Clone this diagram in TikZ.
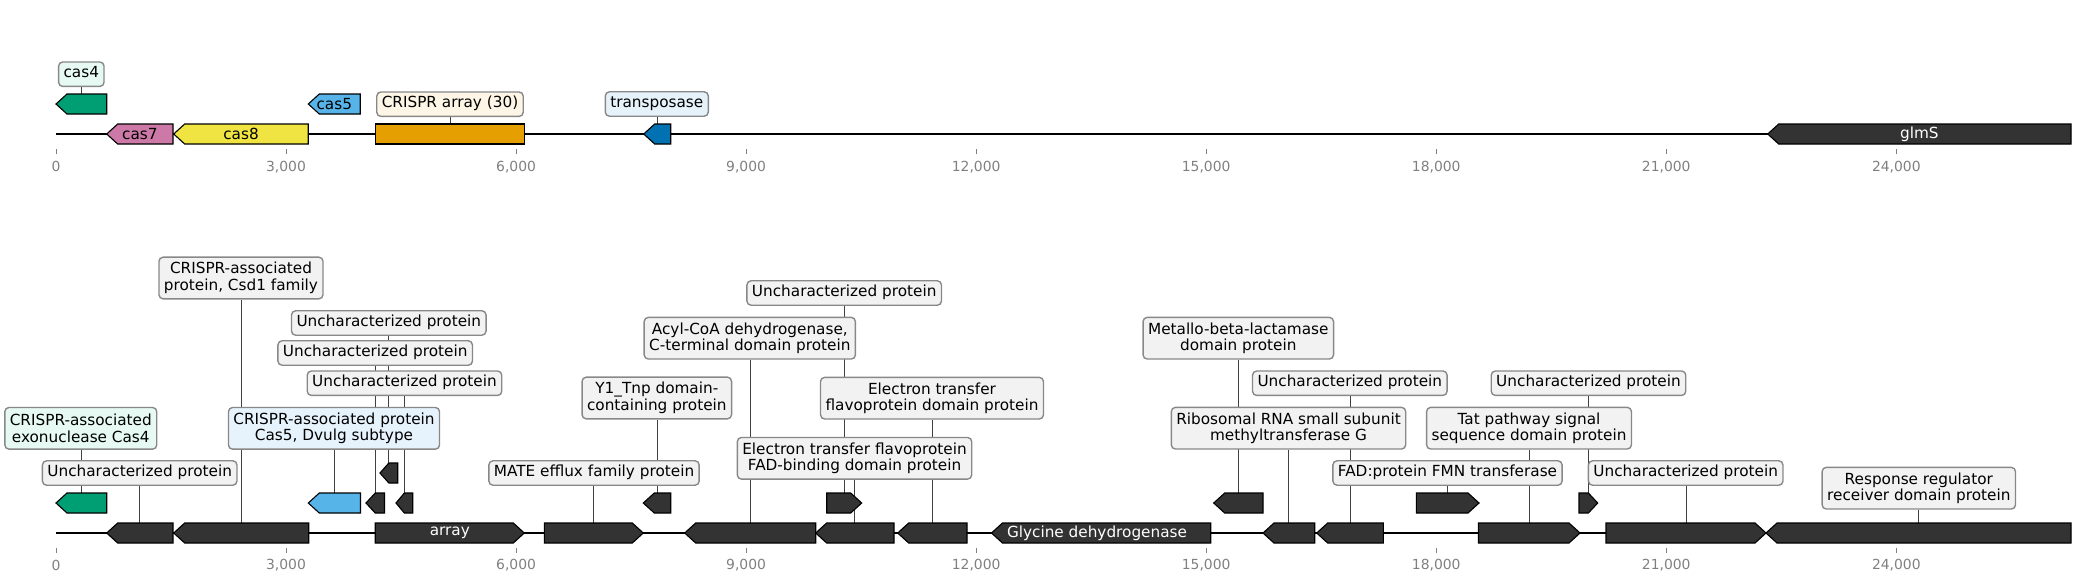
\documentclass[tikz,border=0pt]{standalone}
\usepackage{fontspec}
\setmainfont{DejaVu Sans}
\definecolor{cgreen}{HTML}{009E73}
\definecolor{cpink}{HTML}{CC79A7}
\definecolor{cyellow}{HTML}{F0E442}
\definecolor{csky}{HTML}{56B4E9}
\definecolor{corange}{HTML}{E69F00}
\definecolor{cblue}{HTML}{0072B2}
\definecolor{cdark}{HTML}{333333}
\definecolor{boxfill}{HTML}{F2F2F2}
\definecolor{boxedge}{HTML}{888888}
\definecolor{tickgray}{HTML}{808080}
\definecolor{lmint}{HTML}{E6FAF3}
\definecolor{lsky}{HTML}{E7F3FC}
\definecolor{lcream}{HTML}{FDF6E6}
\definecolor{lblue}{HTML}{E5F2FA}
\pgfdeclarelayer{background}
\pgfsetlayers{background,main}
\tikzset{
  gene/.style={draw=black, line width=0.8pt, line join=miter},
  lab/.style={draw=boxedge, line width=1pt, rounded corners=3pt, fill=boxfill,
    inner xsep=3.6pt, inner ysep=0pt, minimum height=17.6pt, font=\fontsize{11}{12}\selectfont},
  lab2/.style={lab, align=center, minimum height=30pt},
  inlab/.style={font=\fontsize{11}{12}\selectfont, inner sep=0pt},
  conn/.style={draw=black!75, line width=0.7pt},
  axisline/.style={line width=1.5pt, black},
  tickmark/.style={draw=tickgray, line width=0.7pt},
  ticklab/.style={text=tickgray, font=\fontsize{10}{12}\selectfont, inner sep=0pt},
}
% left-pointing gene: name, x1, x2, y, fill
\newcommand{\gL}[5]{%
  \pgfmathsetmacro\hh{min(11,0.5*(#3-#2))}%
  \draw[gene,fill=#5] (#2,#4) -- ({#2+\hh},#4-10) -- (#3,#4-10) -- (#3,#4+10) -- ({#2+\hh},#4+10) -- cycle;
  \coordinate (#1) at ({(#2+#3)/2},#4-10);
  \coordinate (#1c) at ({(#2+#3)/2},#4);
}
% right-pointing gene
\newcommand{\gR}[5]{%
  \pgfmathsetmacro\hh{min(11,0.5*(#3-#2))}%
  \draw[gene,fill=#5] (#3,#4) -- ({#3-\hh},#4-10) -- (#2,#4-10) -- (#2,#4+10) -- ({#3-\hh},#4+10) -- cycle;
  \coordinate (#1) at ({(#2+#3)/2},#4-10);
  \coordinate (#1c) at ({(#2+#3)/2},#4);
}
% plain rectangle feature
\newcommand{\gN}[5]{%
  \draw[gene,fill=#5] (#2,#4-10) rectangle (#3,#4+10);
  \coordinate (#1) at ({(#2+#3)/2},#4-10);
  \coordinate (#1c) at ({(#2+#3)/2},#4);
}
\begin{document}
\begin{tikzpicture}[x=0.72pt,y=-0.72pt]
\useasboundingbox (0,0) rectangle (2080,582);

% axes
\coordinate (topA) at (56,134);
\coordinate (topB) at (2071,134);
\coordinate (botA) at (56,533);
\coordinate (botB) at (2071,533);
\foreach \v/\t in {0/0,3/{3,000},6/{6,000},9/{9,000},12/{12,000},15/{15,000},18/{18,000},21/{21,000},24/{24,000}}{
  \pgfmathsetmacro\xx{56+\v*76.68}
  \draw[tickmark] (\xx,149) -- (\xx,154);
  \node[ticklab] (tt\v) at (\xx,166.7) {\t};
  \draw[tickmark] (\xx,548) -- (\xx,553);
  \node[ticklab] (tb\v) at (\xx,565) {\t};
}

% ---------- top panel ----------
\gL{T1}{56}{106.7}{104}{cgreen}
\gL{T2}{106.7}{173}{134}{cpink}
\gL{T3}{173.7}{308.3}{134}{cyellow}
\gL{T4}{308.3}{360.3}{104}{csky}
\gN{T5}{375.5}{524.5}{134}{corange}
\gL{T6}{643.7}{670.7}{134}{cblue}
\gL{T7}{1767.7}{2071}{134}{cdark}

\node[lab, fill=lmint] (LT1) at (81.3,74.2) {\strut cas4};
\node[inlab] (NT2) at (T2c) {cas7};
\node[inlab] (NT3) at (T3c) {cas8};
\node[inlab] (NT4) at (T4c) {cas5};
\node[lab, fill=lcream] (LT5) at (450,104.2) {\strut CRISPR array (30)};
\node[lab, fill=lblue] (LT6) at (656.8,104) {\strut transposase};
\node[inlab, text=white] (NT7) at (T7c) {glmS};

% ---------- bottom panel ----------
\gL{B1}{56}{106.7}{503}{cgreen}
\gL{B2}{106.7}{173}{533}{cdark}
\gL{B3}{173.7}{308.7}{533}{cdark}
\gL{B4}{308.3}{360.5}{503}{csky}
\gL{B5}{366}{384.5}{503}{cdark}
\gL{B6}{380}{397.7}{473}{cdark}
\gL{B7}{396}{412.7}{503}{cdark}
\gR{B8}{375.3}{524.3}{533}{cdark}
\gR{B9}{544.3}{643.3}{533}{cdark}
\gL{B10}{643.3}{670.7}{503}{cdark}
\gL{B11}{684.7}{815.7}{533}{cdark}
\gL{B12}{815.7}{894}{533}{cdark}
\gR{B13}{826.7}{861.7}{503}{cdark}
\gL{B14}{897.7}{967}{533}{cdark}
\gL{B15}{991.5}{1210.7}{533}{cdark}
\gL{B16}{1213.7}{1263}{503}{cdark}
\gL{B17}{1263}{1314.7}{533}{cdark}
\gL{B18}{1316.7}{1383.3}{533}{cdark}
\gR{B19}{1416.3}{1479}{503}{cdark}
\gR{B20}{1478.5}{1580}{533}{cdark}
\gR{B21}{1579}{1597.7}{503}{cdark}
\gR{B22}{1606}{1766}{533}{cdark}
\gL{B23}{1766}{2071}{533}{cdark}

\node[lab2, fill=lmint] (LB1) at (80.8,428.3) {CRISPR-associated\\exonuclease Cas4};
\node[lab] (LB2) at (139.7,473) {\strut Uncharacterized protein\ };
\node[lab2] (LB3) at (241,278) {CRISPR-associated\\protein, Csd1 family};
\node[lab2, fill=lsky] (LB4) at (334,428.3) {CRISPR-associated protein\\Cas5, Dvulg subtype};
\node[lab] (LB5) at (375.2,353) {\strut Uncharacterized protein\ };
\node[lab] (LB6) at (388.8,323) {\strut Uncharacterized protein\ };
\node[lab] (LB7) at (404.5,383.2) {\strut Uncharacterized protein\ };
\node[inlab, text=white] (NB8) at (B8c) {array};
\node[lab] (LB9) at (594,473) {\strut MATE efflux family protein\ };
\node[lab2] (LB10) at (656.8,398) {Y1\_Tnp domain-\\containing protein};
\node[lab2] (LB11) at (749.8,338.2) {Acyl-CoA dehydrogenase,\\C-terminal domain protein};
\node[lab2] (LB12) at (854.5,458.3) {Electron transfer flavoprotein\\FAD-binding domain protein};
\node[lab] (LB13) at (844.2,293) {\strut Uncharacterized protein\ };
\node[lab2] (LB14) at (932,398.2) {Electron transfer\\flavoprotein domain protein};
\node[inlab, text=white] (NB15) at (1097,533) {Glycine dehydrogenase};
\node[lab2] (LB16) at (1238.3,338.2) {Metallo-beta-lactamase\\domain protein};
\node[lab2] (LB17) at (1288.5,428.2) {Ribosomal RNA small subunit\\methyltransferase G};
\node[lab] (LB18) at (1349.8,383.2) {\strut Uncharacterized protein\ };
\node[lab] (LB19) at (1447.5,473) {\strut FAD:protein FMN transferase\ };
\node[lab2] (LB20) at (1529,428.2) {Tat pathway signal\\sequence domain protein};
\node[lab] (LB21) at (1588.5,383.2) {\strut Uncharacterized protein\ };
\node[lab] (LB22) at (1685.7,473) {\strut Uncharacterized protein\ };
\node[lab2] (LB23) at (1918.8,488.2) {Response regulator\\receiver domain protein};

\begin{pgfonlayer}{background}
  \draw[axisline] (topA) -- (topB);
  \draw[axisline] (botA) -- (botB);
  \foreach \g in {T1,T5,T6}{
    \draw[conn] (\g |- L\g.south) -- (\g);
  }
  \foreach \g in {B1,B2,B3,B4,B5,B6,B7,B9,B10,B11,B12,B13,B14,B16,B17,B18,B19,B20,B21,B22,B23}{
    \draw[conn] (\g |- L\g.south) -- (\g);
  }
\end{pgfonlayer}
\end{tikzpicture}
\end{document}
